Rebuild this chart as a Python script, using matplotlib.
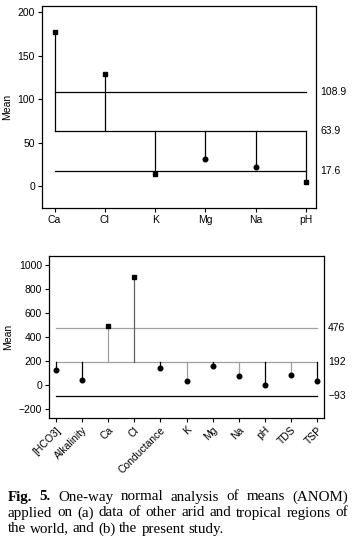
import matplotlib
matplotlib.use('Agg')
import matplotlib.pyplot as plt

# --- DATA ---
# (a) other arid and tropical regions
params_a = ['Ca', 'Cl', 'K', 'Mg', 'Na', 'pH']
means_a = [177, 129, 14, 31, 22, 5]
center_a = 63.9
upper_a = 108.9
lower_a = 17.6

# (b) present study
params_b = ['[HCO3]', 'Alkalinity', 'Ca', 'Cl', 'Conductance', 'K', 'Mg', 'Na', 'pH', 'TDS', 'TSP']
means_b = [130, 44, 493, 900, 146, 33, 160, 80, 5, 86, 36]
center_b = 192
upper_b = 476
lower_b = -93

caption = [
    'Fig. 5. One-way normal analysis of means (ANOM)',
    'applied on (a) data of other arid and tropical regions of',
    'the world, and (b) the present study.',
]

plt.rcParams['font.family'] = ['Liberation Sans', 'DejaVu Sans']
plt.rcParams['font.size'] = 7.5

W, H = 353, 544
fig = plt.figure(figsize=(W / 100, H / 100), dpi=100)


def anom(ax, names, vals, cl, ucl, lcl, stem_cols, line_cols, label_fmt, lab_off):
    x = list(range(len(names)))
    for i, v in enumerate(vals):
        ax.plot([i, i], [cl, v], color=stem_cols[i], lw=0.9, zorder=2)
        out = v > ucl or v < lcl
        ax.plot(i, v, marker='s' if out else 'o', ms=3.3, color='black',
                linestyle='none', zorder=3)
    for y, c in zip([ucl, cl, lcl], line_cols):
        ax.plot([0, len(names) - 1], [y, y], color=c, lw=0.9, zorder=1)
        ax.annotate(label_fmt(y), xy=(1.0, y), xycoords=('axes fraction', 'data'),
                    xytext=(lab_off, 0), textcoords='offset points', va='center',
                    ha='left', fontsize=7.5)
    ax.set_xticks(x)
    ax.set_ylabel('Mean', fontsize=7.5)
    ax.tick_params(direction='out', length=3, width=0.8, pad=2, labelsize=7.5)
    for s in ax.spines.values():
        s.set_linewidth(0.9)


# (a)
ax1 = fig.add_axes([0.119, 0.6176, 0.776, 0.371])
anom(ax1, params_a, means_a, center_a, upper_a, lower_a,
     ['black'] * len(params_a), ['black', 'black', 'black'],
     lambda y: f'{y:.1f}', 3)
ax1.set_xticklabels(params_a)
ax1.set_xlim(-0.25, 5.2)
ax1.set_ylim(-25, 207)
ax1.set_yticks([0, 50, 100, 150, 200])

# (b)
ax2 = fig.add_axes([0.139, 0.2316, 0.779, 0.298])
gray = '#a0a0a0'
stem_b = ['black', 'black', gray, '#606060', 'black', gray, 'black', gray, 'black', gray, 'black']
anom(ax2, params_b, means_b, center_b, upper_b, lower_b,
     stem_b, [gray, gray, 'black'],
     lambda y: f'{y:.0f}'.replace('-', '\u2212'), 3)
ax2.set_xticklabels(params_b, rotation=45, ha='right', rotation_mode='anchor')
ax2.set_xlim(-0.26, 10.26)
ax2.set_ylim(-272, 1075)
ax2.set_yticks([-200, 0, 200, 400, 600, 800, 1000])

# caption, first two lines justified
serif = ['Liberation Serif', 'DejaVu Serif']
renderer = fig.canvas.get_renderer()
x_left, x_right = 8, 348
y_lines = [497, 513, 529]
for li, line in enumerate(caption):
    words = line.split(' ')
    texts = []
    for wi, w in enumerate(words):
        bold = li == 0 and wi < 2
        t = fig.text(0, 1 - y_lines[li] / H, w, family=serif, fontsize=10.8,
                     fontweight='bold' if bold else 'normal', ha='left', va='center')
        texts.append(t)
    widths = [t.get_window_extent(renderer).width for t in texts]
    if li < 2:
        gap = (x_right - x_left - sum(widths)) / (len(words) - 1)
    else:
        gap = 10.8 * 0.25 * 100 / 72  # normal space
    xp = x_left
    for t, w in zip(texts, widths):
        t.set_x(xp / W)
        xp += w + gap

fig.savefig('out.png', dpi=100)
